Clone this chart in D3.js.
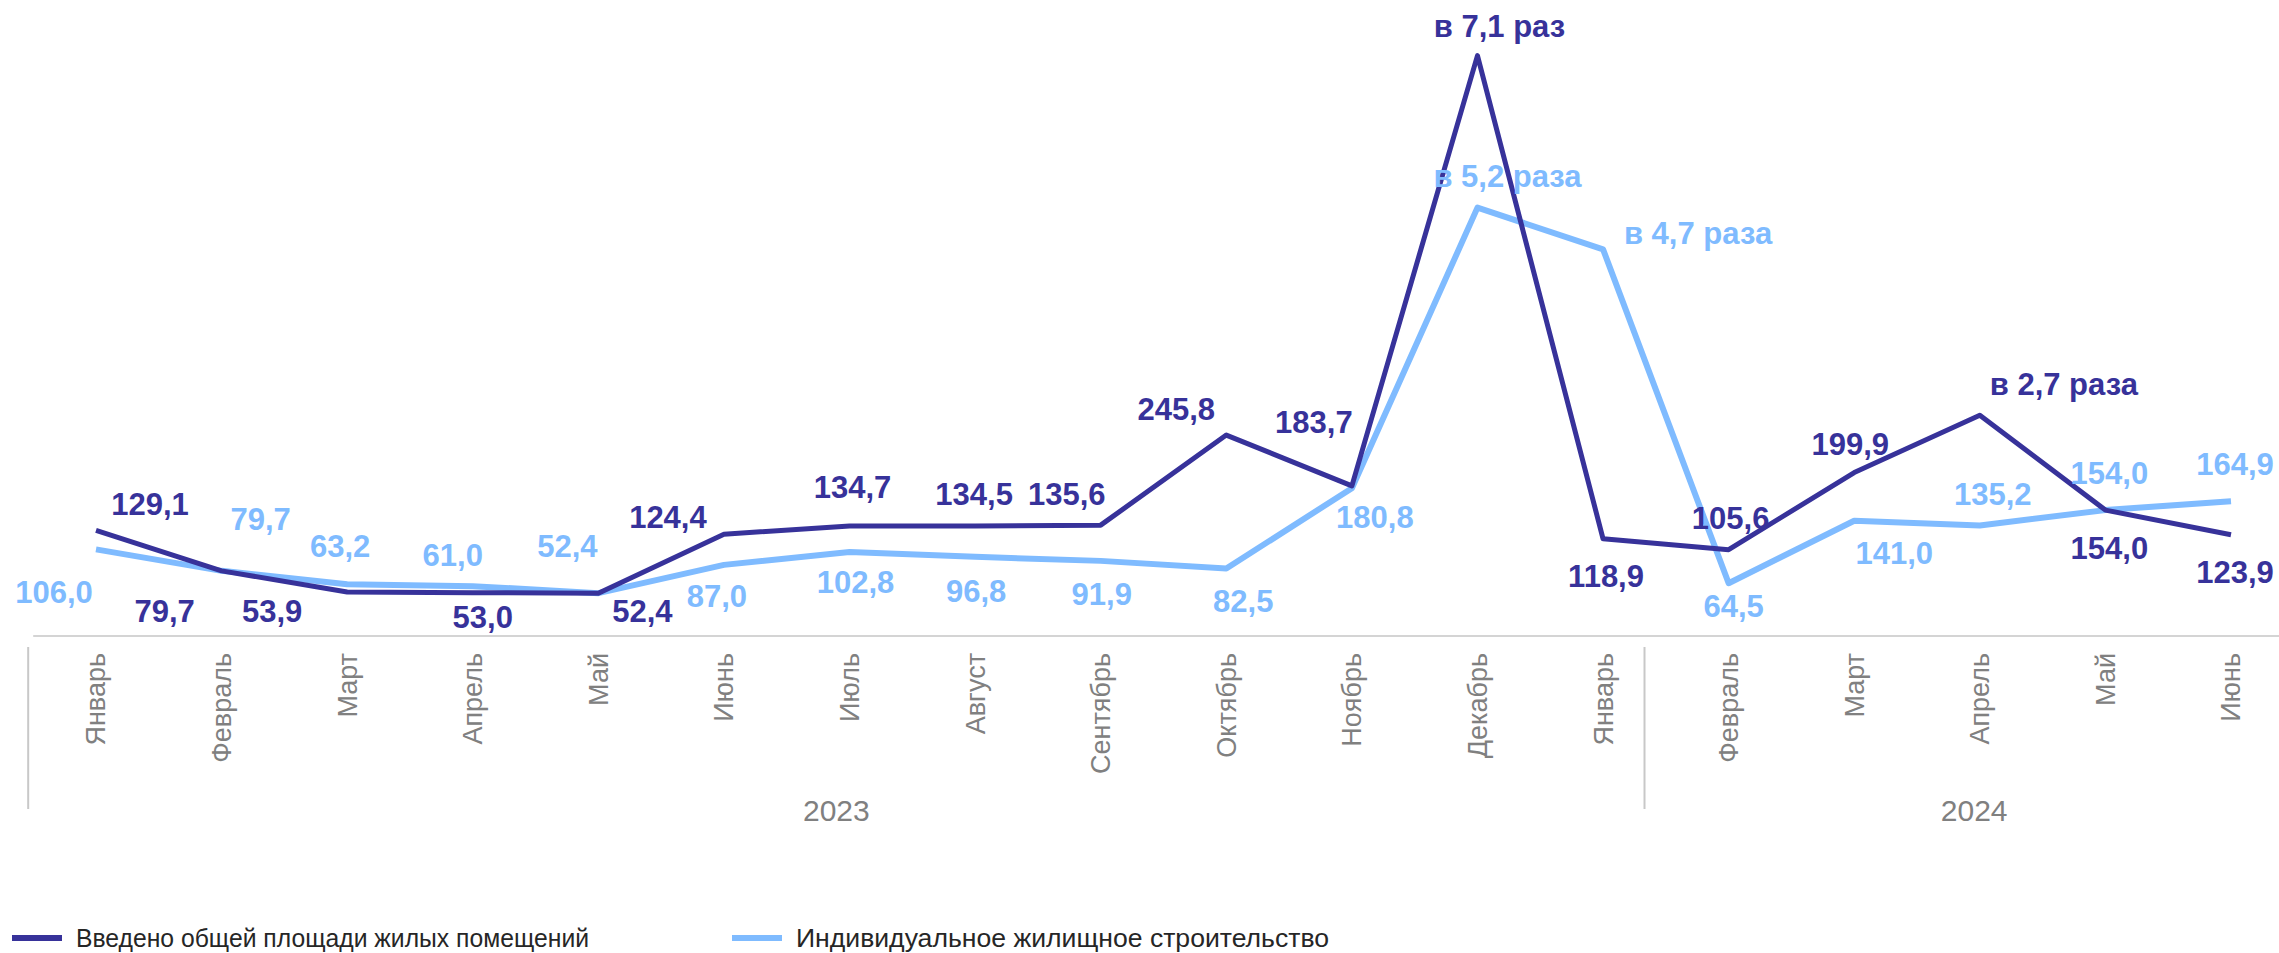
<!DOCTYPE html>
<html>
  <head>
    <meta charset="utf-8">
    <title>Ввод жилья</title>
    <script src="https://d3js.org/d3.v7.min.js"></script>
    <style>
      body { margin: 0; background: #fff; }
      text { font-family: "Liberation Sans", Arial, sans-serif; }
    </style>
  </head>
  <body>
    <script>
    // data
    var months = ["Январь","Февраль","Март","Апрель","Май","Июнь","Июль","Август","Сентябрь",
                  "Октябрь","Ноябрь","Декабрь","Январь","Февраль","Март","Апрель","Май","Июнь"]
    var years = ["2023", "2024"]

    // values in % to the same month of previous year (x-fold values drawn as %)
    var totalValues = [129.1, 79.7, 53.9, 53.0, 52.4, 124.4, 134.7, 134.5, 135.6,
                       245.8, 183.7, 710, 118.9, 105.6, 199.9, 270, 154.0, 123.9]
    var totalLabels = ["129,1","79,7","53,9","53,0","52,4","124,4","134,7","134,5","135,6",
                       "245,8","183,7","в 7,1 раз","118,9","105,6","199,9","в 2,7 раза","154,0","123,9"]

    var ihsValues = [106.0, 79.7, 63.2, 61.0, 52.4, 87.0, 102.8, 96.8, 91.9,
                     82.5, 180.8, 524, 473, 64.5, 141.0, 135.2, 154.0, 164.9]
    var ihsLabels = ["106,0","79,7","63,2","61,0","52,4","87,0","102,8","96,8","91,9",
                     "82,5","180,8","в 5,2 раза","в 4,7 раза","64,5","141,0","135,2","154,0","164,9"]

    var seriesNames = ["Введено общей площади жилых помещений", "Индивидуальное жилищное строительство"]

    // label placement (offset of label centre/baseline from point)
    var totalLabelPos = [[54,-15],[-57,51],[-75,30],[10,35],[44,29],[-56,-6],[3,-28],[-1,-21],[-34,-20],
                         [-50,-15],[-38,-53],[22,-19],[3,48],[2,-21],[-4,-18],[84,-20],[4,49],[4,48]]
    var ihsLabelPos = [[-42,54],[39,-41],[-7,-27],[-20,-20],[-31,-36],[-7,42],[6,41],[1,45],[1,44],
                       [17,43],[23,40],[30,-21],[95,-5],[5,34],[40,43],[13,-20],[4,-26],[4,-26]]

    var width = 2279
        height = 953
        darkColor = "#37329a"
        lightColor = "#7fbbff"
        grey = "#808080"

    var svg = d3.select("body").append("svg")
                .attr("width", width)
                .attr("height", height)

    var x = d3.scalePoint()
              .domain(d3.range(months.length))
              .range([96, 2231])
    var step = x.step()

    var y = d3.scaleLinear()
              .domain([0, 778])
              .range([636, 0])

    // x axis line
    svg.append("line")
       .attr("x1", x(0) - 0.5 * step).attr("x2", width)
       .attr("y1", y(0)).attr("y2", y(0))
       .attr("stroke", "#d4d4d4").attr("stroke-width", 2)

    // group separators
    var sepX = [x(0) - 0.54 * step, x(12) + 0.33 * step]
    var rightEdge = x(17) + 0.58 * step
    svg.selectAll(".sep")
       .data(sepX)
       .enter().append("line")
       .attr("class", "sep")
       .attr("x1", d => d).attr("x2", d => d)
       .attr("y1", 647).attr("y2", 809)
       .attr("stroke", "#c8c8c8").attr("stroke-width", 2)

    // month labels
    svg.selectAll(".month")
       .data(months)
       .enter().append("text")
       .attr("class", "month")
       .attr("transform", (d, i) => "translate(" + x(i) + ",653) rotate(-90)")
       .attr("dy", "0.35em")
       .attr("text-anchor", "end")
       .attr("font-size", 27)
       .attr("fill", grey)
       .text(d => d)

    // year labels
    var bounds = [sepX[0], sepX[1], rightEdge]
    svg.selectAll(".year")
       .data(years)
       .enter().append("text")
       .attr("class", "year")
       .attr("x", (d, i) => (bounds[i] + bounds[i + 1]) / 2)
       .attr("y", 821)
       .attr("text-anchor", "middle")
       .attr("font-size", 30)
       .attr("fill", grey)
       .text(d => d)

    var line = d3.line()
                 .x((d, i) => x(i))
                 .y(d => y(d))

    // light series first, dark on top
    svg.append("path")
       .attr("d", line(ihsValues))
       .attr("fill", "none")
       .attr("stroke", lightColor)
       .attr("stroke-width", 6)
       .attr("stroke-linejoin", "round")

    svg.append("path")
       .attr("d", line(totalValues))
       .attr("fill", "none")
       .attr("stroke", darkColor)
       .attr("stroke-width", 5)
       .attr("stroke-linejoin", "round")

    function addLabels(values, labels, pos, color, cls) {
      svg.selectAll("." + cls)
         .data(values)
         .enter().append("text")
         .attr("class", cls)
         .attr("x", (d, i) => x(i) + pos[i][0])
         .attr("y", (d, i) => y(d) + pos[i][1])
         .attr("text-anchor", "middle")
         .attr("font-size", 31)
         .attr("font-weight", "bold")
         .attr("fill", color)
         .text((d, i) => labels[i])
    }
    addLabels(ihsValues, ihsLabels, ihsLabelPos, lightColor, "lbl-ihs")
    addLabels(totalValues, totalLabels, totalLabelPos, darkColor, "lbl-total")

    // legend
    var legendX = [12, 732]
    var legendTextWidth = [513, 533]
    var legend = svg.selectAll(".legend")
                    .data(seriesNames)
                    .enter().append("g")
                    .attr("class", "legend")
                    .attr("transform", (d, i) => "translate(" + legendX[i] + ",938)")
    legend.append("line")
          .attr("x1", 0).attr("x2", 50)
          .attr("stroke", (d, i) => i == 0 ? darkColor : lightColor)
          .attr("stroke-width", 6)
    legend.append("text")
          .attr("x", 64)
          .attr("y", 9)
          .attr("font-size", 25)
          .attr("fill", "#262626")
          .attr("textLength", (d, i) => legendTextWidth[i])
          .attr("lengthAdjust", "spacingAndGlyphs")
          .text(d => d)
    </script>
  </body>
</html>
